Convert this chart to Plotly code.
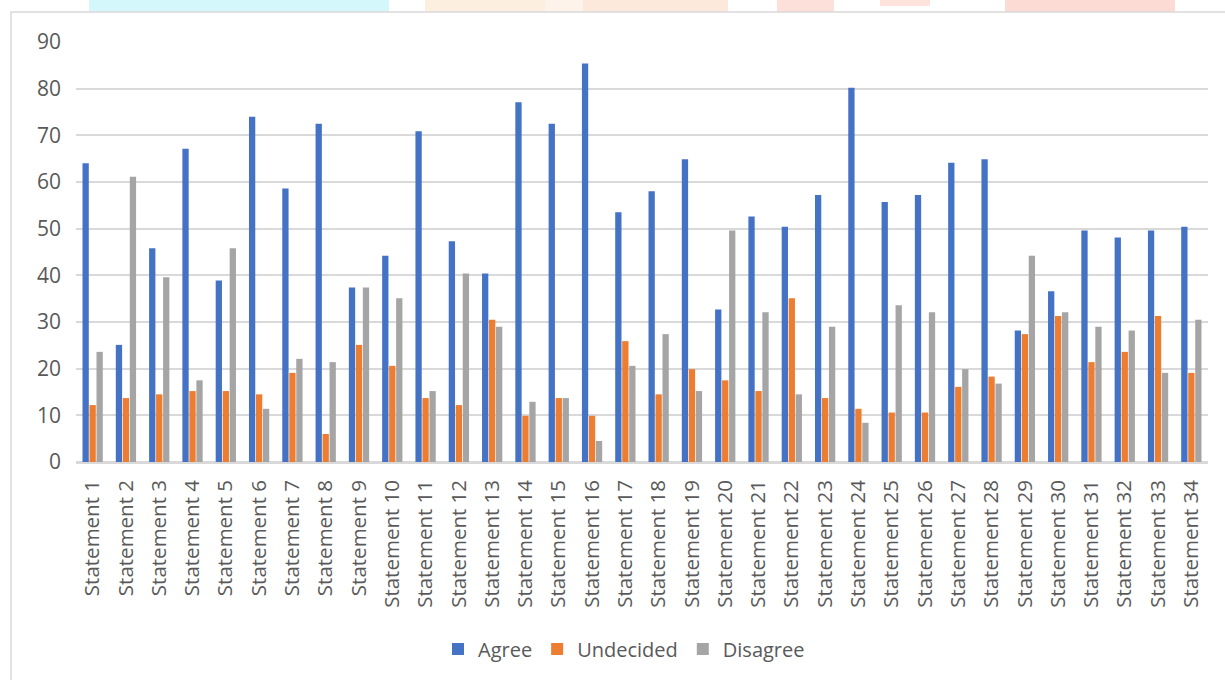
import plotly.graph_objects as go

categories = [f"Statement {i}" for i in range(1, 35)]

agree = [64.0, 25.1, 45.8, 67.1, 38.9, 74.0, 58.6, 72.5, 37.4, 44.2,
         70.9, 47.3, 40.4, 77.1, 72.5, 85.4, 53.5, 58.0, 64.9, 32.7,
         52.6, 50.4, 57.2, 80.2, 55.7, 57.2, 64.1, 64.9, 28.2, 36.6,
         49.6, 48.1, 49.6, 50.4]
undecided = [12.2, 13.7, 14.5, 15.2, 15.2, 14.5, 19.1, 6.0, 25.1, 20.6,
             13.7, 12.2, 30.5, 9.9, 13.7, 9.9, 25.9, 14.5, 19.9, 17.5,
             15.2, 35.1, 13.7, 11.4, 10.6, 10.6, 16.1, 18.3, 27.4, 31.3,
             21.4, 23.6, 31.3, 19.1]
disagree = [23.6, 61.1, 39.6, 17.5, 45.8, 11.4, 22.1, 21.4, 37.4, 35.1,
            15.2, 40.4, 29.0, 12.9, 13.7, 4.5, 20.6, 27.4, 15.2, 49.6,
            32.1, 14.5, 29.0, 8.4, 33.6, 32.1, 19.9, 16.8, 44.2, 32.1,
            29.0, 28.2, 19.1, 30.5]

series_names = ["Agree", "Undecided", "Disagree"]
series_colors = ["#4472C4", "#ED7D31", "#A5A5A5"]
y_ticks = list(range(0, 91, 10))

W, H = 1225, 680
L, T = 76, 42
pw, ph = 1132, 420
R = W - L - pw
B = H - T - ph


def px(x):
    return (x - L) / pw


def py(y):
    return (T + ph - y) / ph


fig = go.Figure()
for name, vals, col in zip(series_names, [agree, undecided, disagree], series_colors):
    fig.add_trace(go.Bar(x=categories, y=vals, name=name,
                         marker=dict(color=col, line=dict(width=0))))

shapes = []
# faded strips at the very top (cropped document background)
for x0, x1, c in [(89, 389, "#d4f7fb"), (425, 545, "#fdefe0"), (583, 728, "#fde8dc"),
                  (545, 583, "#fdf3ea"), (777, 834, "#fde0d9"), (1005, 1175, "#fddbd5")]:
    shapes.append(dict(type="rect", xref="paper", yref="paper",
                       x0=px(x0), x1=px(x1), y0=py(12), y1=py(-2),
                       fillcolor=c, line=dict(width=0), layer="below"))
shapes.append(dict(type="rect", xref="paper", yref="paper",
                   x0=px(880), x1=px(930), y0=py(6), y1=py(-2),
                   fillcolor="#fde3dc", line=dict(width=0), layer="below"))
# chart border
shapes.append(dict(type="rect", xref="paper", yref="paper",
                   x0=px(11), x1=px(1240), y0=py(12), y1=py(700),
                   fillcolor="rgba(0,0,0,0)", line=dict(color="#d9d9d9", width=1.5)))

fig.update_layout(
    width=W, height=H,
    margin=dict(l=L, r=R, t=T, b=B, pad=0),
    paper_bgcolor="white", plot_bgcolor="white",
    font=dict(family="Open Sans", color="#595959", size=20),
    barmode="group", bargap=0.37, bargroupgap=0.1,
    shapes=shapes,
    legend=dict(orientation="h", x=px(624), xanchor="center", y=py(649), yanchor="middle",
                font=dict(size=20, color="#595959"), traceorder="normal",
                itemwidth=30),
    showlegend=True,
)
fig.update_yaxes(range=[0, 90], tickvals=y_ticks, showgrid=True, gridcolor="#d9d9d9",
                 gridwidth=1.5, zeroline=True, zerolinecolor="#d9d9d9", zerolinewidth=1.5,
                 showline=False, ticks="", tickfont=dict(size=21, color="#595959"),
                 ticklabelstandoff=14, fixedrange=True)
fig.update_xaxes(tickangle=-90, showgrid=False, showline=True, linecolor="#d9d9d9", linewidth=1.5,
                 ticks="", tickfont=dict(size=20.5, color="#595959"), ticklabelstandoff=8,
                 fixedrange=True)

fig.write_html("out.html", config={"displayModeBar": False},
               post_script="document.body.style.margin='0';")
